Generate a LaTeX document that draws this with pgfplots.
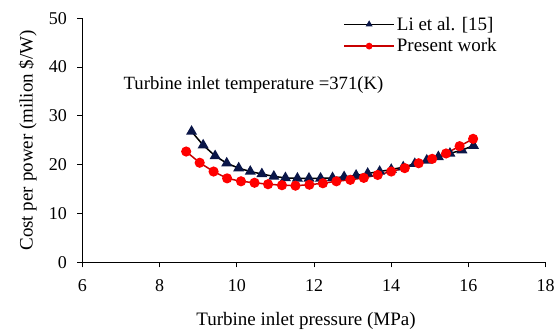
\documentclass[border=0pt]{standalone}
\usepackage{fontspec}
\setmainfont{Liberation Serif}
\usepackage{pgfplots}
\pgfplotsset{compat=1.18}
\definecolor{navy}{RGB}{10,22,72}
\definecolor{dred}{RGB}{200,0,0}
\definecolor{bred}{RGB}{255,0,0}
\begin{document}
\begin{tikzpicture}
\useasboundingbox (-82.3pt,-66.7pt) rectangle (476.7pt,262.3pt);
\begin{axis}[
  at={(0pt,0pt)}, anchor=south west,
  scale only axis, width=463.4pt, height=244pt,
  xmin=6, xmax=18, ymin=0, ymax=50,
  axis lines=left, axis line style={-, line width=1.3pt, black},
  xtick={6,8,...,18}, ytick={0,10,...,50},
  tick align=outside, major tick length=5pt,
  tick style={line width=1pt, black},
  /pgf/number format/assume math mode=true,
  ticklabel style={font=\fontsize{18}{20}\selectfont},
  xticklabel style={yshift=-9pt},
  yticklabel style={xshift=-7pt},
  label style={font=\fontsize{19}{22}\selectfont},
  xlabel={Turbine inlet pressure (MPa)},
  ylabel={Cost per power (milion \$/W)},
  xlabel style={at={(axis description cs:0.5,0)}, anchor=north, yshift=-46pt, xshift=-8pt},
  ylabel style={at={(axis description cs:-0.091,0.5)}, anchor=south},
  legend style={at={(axis description cs:0.563,1.014)}, anchor=north west, draw=none, fill=none,
    font=\fontsize{19}{22}\selectfont, inner sep=0pt, row sep=3pt},
  legend cell align=left,
  legend image code/.code={\draw[mark repeat=2,mark phase=2,#1,mark size=2.6pt] plot coordinates {(0pt,0pt) (25pt,0pt) (50pt,0pt)};},
]
\addplot[black, line width=1.5pt, mark=triangle*, mark size=4.9pt, mark options={fill=navy, draw=navy, solid}] coordinates {
(8.83,26.8) (9.13,24.0) (9.44,21.8) (9.74,20.3) (10.05,19.3) (10.35,18.6) (10.65,18.1) (10.96,17.6) (11.26,17.3) (11.57,17.2) (11.87,17.2) (12.17,17.2) (12.48,17.3) (12.78,17.5) (13.09,17.8) (13.39,18.2) (13.70,18.6) (14.00,19.0) (14.31,19.5) (14.61,20.2) (14.92,20.9) (15.22,21.6) (15.52,22.3) (15.83,23.0) (16.13,23.9)
};
\addlegendentry{Li et al. [15]}
\addplot[dred, line width=1.5pt, mark=*, mark size=4.3pt, mark options={fill=bred, draw=bred, solid}] coordinates {
(8.69,22.7) (9.04,20.4) (9.40,18.6) (9.75,17.2) (10.11,16.6) (10.46,16.3) (10.81,16.0) (11.17,15.8) (11.52,15.7) (11.88,15.9) (12.23,16.2) (12.58,16.6) (12.94,16.9) (13.29,17.3) (13.65,17.9) (14.00,18.6) (14.35,19.3) (14.71,20.3) (15.06,21.2) (15.42,22.3) (15.77,23.8) (16.12,25.3)
};
\addlegendentry{Present work}
\node[anchor=west, font=\fontsize{18.7}{22}\selectfont] at (axis cs:6.98,36.3) {Turbine inlet temperature =371(K)};
\end{axis}
\end{tikzpicture}
\end{document}
